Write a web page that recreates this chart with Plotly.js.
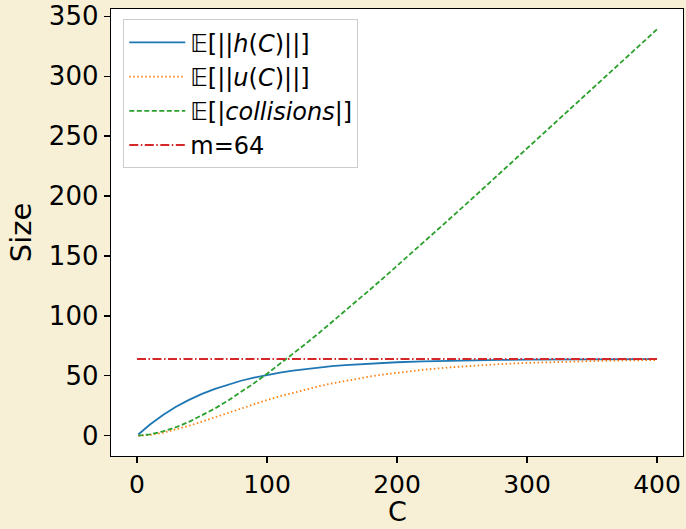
<!DOCTYPE html>
<html>
<head>
<meta charset="utf-8">
<script src="https://cdn.plot.ly/plotly-3.0.1.min.js"></script>
<style>html,body{margin:0;padding:0;background:#f8f0d6;}</style>
</head>
<body>
<div id="chart" style="width:686px;height:529px;"></div>
<script>
// Values
const cValues = [1,10,20,30,40,50,60,70,80,90,100,110,120,130,140,150,160,170,180,190,200,220,240,260,280,300,320,340,360,380,400];
const hValues = [1.00,9.33,17.29,24.10,29.91,34.88,39.12,42.75,45.84,48.49,50.75,52.68,54.33,55.74,56.94,57.97,58.85,59.60,60.24,60.79,61.26,62.00,62.54,62.93,63.22,63.43,63.59,63.70,63.78,63.84,63.88];
const uValues = [0.00,0.65,2.46,5.10,8.27,11.77,15.43,19.13,22.79,26.33,29.72,32.92,35.91,38.69,41.26,43.62,45.77,47.73,49.50,51.10,52.55,55.01,56.97,58.53,59.76,60.73,61.48,62.07,62.52,62.87,63.14];
const collisionValues = [0.09,1.15,3.55,7.06,11.52,16.78,22.73,29.27,36.32,43.80,51.64,59.80,68.22,76.88,85.73,94.75,103.91,113.20,122.59,132.06,141.62,160.91,180.39,200.02,219.74,239.54,259.40,279.29,299.21,319.15,339.11];
const mX = [0, 400];
const mY = [64, 64];
const xTicks = [0,100,200,300,400];
const yTicks = [0,50,100,150,200,250,300,350];

const traces = [
  {x: cValues, y: hValues, mode: 'lines', name: '𝔼[||<i>h</i>(<i>C</i>)||]',
   line: {color: '#1f77b4', width: 1.8}, legendgroup: 'a'},
  {x: cValues, y: uValues, mode: 'lines', name: '𝔼[||<i>u</i>(<i>C</i>)||]',
   line: {color: '#ff7f0e', width: 1.8, dash: '1.5px,2.5px'}, legendgroup: 'b'},
  {x: cValues, y: collisionValues, mode: 'lines', name: '𝔼[|<i>collisions</i>|]',
   line: {color: '#2ca02c', width: 1.8, dash: '5px,2.5px'}, legendgroup: 'c'},
  {x: mX, y: mY, mode: 'lines', name: 'm=64',
   line: {color: '#d62728', width: 1.8, dash: '9px,2.5px,1.5px,2.5px'}, legendgroup: 'd'}
];

const layout = {
  width: 686, height: 529,
  paper_bgcolor: '#f8f0d6',
  plot_bgcolor: '#ffffff',
  margin: {l: 111, r: 3, t: 9, b: 73},
  font: {family: 'DejaVu Sans', color: '#000000'},
  showlegend: true,
  legend: {
    x: 0.0215, y: 0.977, xanchor: 'left', yanchor: 'top',
    bgcolor: '#ffffff', bordercolor: '#cccccc', borderwidth: 1,
    font: {family: 'DejaVu Sans', size: 24, color: '#000000'},
    itemwidth: 56, tracegroupgap: 0
  },
  xaxis: {
    range: [-20, 420],
    tickvals: xTicks, ticktext: xTicks.map(String),
    ticks: 'outside', ticklen: 6, tickwidth: 1.3, tickcolor: '#000',
    showgrid: false, zeroline: false,
    showline: true, linecolor: '#000', linewidth: 1.3, mirror: true,
    tickfont: {size: 25, color: '#000'}
  },
  yaxis: {
    range: [-16.96, 356.07],
    tickvals: yTicks, ticktext: yTicks.map(String),
    ticks: 'outside', ticklen: 6, tickwidth: 1.3, tickcolor: '#000',
    showgrid: false, zeroline: false,
    showline: true, linecolor: '#000', linewidth: 1.3, mirror: true,
    tickfont: {size: 26, color: '#000'},
    title: {text: 'Size', font: {size: 29, color: '#000'}, standoff: 8}
  },
  annotations: [{
    text: 'C', xref: 'paper', yref: 'paper', x: 0.5, y: 0,
    xanchor: 'center', yanchor: 'middle', yshift: -55, showarrow: false,
    font: {family: 'DejaVu Sans', size: 27, color: '#000'}
  }]
};

Plotly.newPlot('chart', traces, layout, {displayModeBar: false, staticPlot: true});
</script>
</body>
</html>
